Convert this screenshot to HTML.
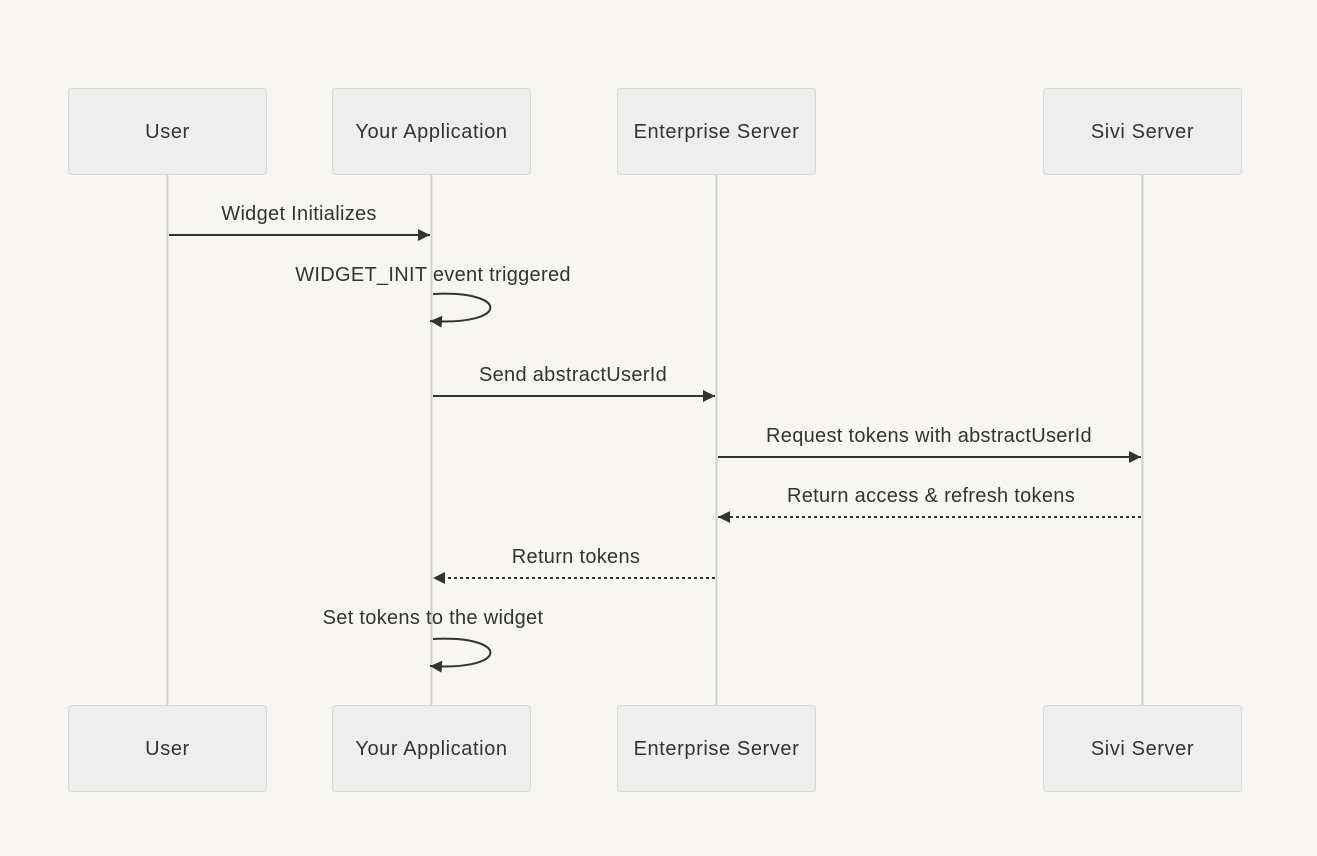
<!DOCTYPE html>
<html><head><style>
html,body{margin:0;padding:0;background:#f7f6f3;}
svg{display:block;font-family:"Liberation Sans",sans-serif;}
</style></head><body>
<svg width="1317" height="856" viewBox="0 0 1317 856" xmlns="http://www.w3.org/2000/svg">
<defs>
<marker id="a" viewBox="0 0 12 12" refX="12" refY="6" markerWidth="12" markerHeight="12" markerUnits="userSpaceOnUse" orient="auto"><path d="M0,0 L12,6 L0,12 z" fill="#333"/></marker>
</defs>
<rect width="1317" height="856" fill="#f7f6f3"/>
<g stroke="#d0d0d0" stroke-width="2">
<line x1="167.5" y1="174" x2="167.5" y2="705"/>
<line x1="431.5" y1="174" x2="431.5" y2="705"/>
<line x1="716.5" y1="174" x2="716.5" y2="705"/>
<line x1="1142.5" y1="174" x2="1142.5" y2="705"/>
</g>
<g fill="#eeeeee" stroke="#d9d9d9" stroke-width="1">
<rect x="68.5" y="88.5" width="198" height="86" rx="3"/>
<rect x="332.5" y="88.5" width="198" height="86" rx="3"/>
<rect x="617.5" y="88.5" width="198" height="86" rx="3"/>
<rect x="1043.5" y="88.5" width="198" height="86" rx="3"/>
<rect x="68.5" y="705.5" width="198" height="86" rx="3"/>
<rect x="332.5" y="705.5" width="198" height="86" rx="3"/>
<rect x="617.5" y="705.5" width="198" height="86" rx="3"/>
<rect x="1043.5" y="705.5" width="198" height="86" rx="3"/>
</g>
<g fill="#333" font-size="20" letter-spacing="0.6" text-anchor="middle" dominant-baseline="central">
<text x="167.5" y="132">User</text>
<text x="431.5" y="132">Your Application</text>
<text x="716.5" y="132">Enterprise Server</text>
<text x="1142.5" y="132">Sivi Server</text>
<text x="167.5" y="749">User</text>
<text x="431.5" y="749">Your Application</text>
<text x="716.5" y="749">Enterprise Server</text>
<text x="1142.5" y="749">Sivi Server</text>
</g>
<g fill="#333" font-size="20" letter-spacing="0.3" text-anchor="middle">
<text x="299" y="220">Widget Initializes</text>
<text x="433" y="281">WIDGET_INIT event triggered</text>
<text x="573" y="381">Send abstractUserId</text>
<text x="929" y="442">Request tokens with abstractUserId</text>
<text x="931" y="502">Return access &amp; refresh tokens</text>
<text x="576" y="563">Return tokens</text>
<text x="433" y="624">Set tokens to the widget</text>
</g>
<g stroke="#333" stroke-width="2" fill="none">
<line x1="169" y1="235" x2="430" y2="235" marker-end="url(#a)"/>
<path d="M433,294 C510,290 510,326 430,321" marker-end="url(#a)"/>
<line x1="433" y1="396" x2="715" y2="396" marker-end="url(#a)"/>
<line x1="718" y1="457" x2="1141" y2="457" marker-end="url(#a)"/>
<line x1="1141" y1="517" x2="718" y2="517" stroke-dasharray="3,3" marker-end="url(#a)"/>
<line x1="715" y1="578" x2="433" y2="578" stroke-dasharray="3,3" marker-end="url(#a)"/>
<path d="M433,639 C510,635 510,671 430,666" marker-end="url(#a)"/>
</g>
</svg>
</body></html>
